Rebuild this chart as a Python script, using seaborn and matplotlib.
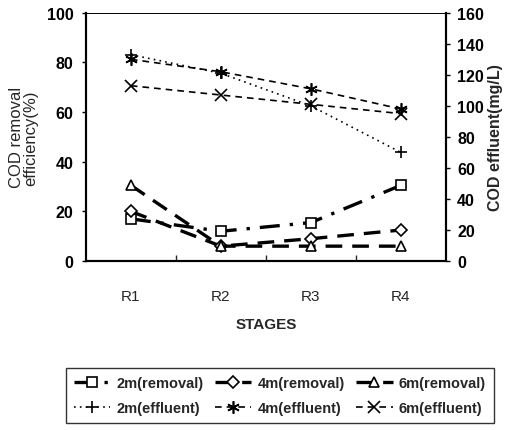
import matplotlib
matplotlib.use("Agg")
import matplotlib.pyplot as plt
import seaborn as sns
import pandas as pd

sns.set_theme(style="white")
plt.rcParams["font.family"] = ["Liberation Sans", "DejaVu Sans"]

stages = ["R1", "R2", "R3", "R4"]

removal_2m = [17, 12, 15.5, 30.5]
removal_4m = [20, 6, 9, 12.5]
removal_6m = [30.5, 6, 6, 6]

effluent_2m = [133, 121, 100, 70]
effluent_4m = [130, 122, 111, 98]
effluent_6m = [113, 107, 101, 95]

fig = plt.figure(figsize=(5.05, 4.31), dpi=100)
ax = fig.add_axes([0.170, 0.392, 0.713, 0.576])
ax2 = ax.twinx()

common = dict(color="black", markeredgecolor="black", markeredgewidth=1.2,
              sort=False, legend=False)

# removal efficiency (left axis)
removal_styles = [
    (removal_2m, "2m(removal)", "s", (0, (6, 3, 1, 3))),
    (removal_4m, "4m(removal)", "D", (0, (5, 3))),
    (removal_6m, "6m(removal)", "^", (0, (5, 3))),
]
handles = []
for vals, lab, mk, ls in removal_styles:
    df = pd.DataFrame({"stage": stages, "value": vals})
    sns.lineplot(data=df, x="stage", y="value", ax=ax, marker=mk,
                 markersize=7 if mk != "D" else 6, markerfacecolor="white",
                 linestyle=ls, linewidth=2.4, label=lab, **common)
    handles.append(ax.lines[-1])

# effluent COD (right axis)
effluent_styles = [
    (effluent_2m, "2m(effluent)", "+", (0, (1, 2.5))),
    (effluent_4m, "4m(effluent)", (6, 2, 0), (0, (4, 3))),
    (effluent_6m, "6m(effluent)", "x", (0, (4, 3))),
]
for vals, lab, mk, ls in effluent_styles:
    df = pd.DataFrame({"stage": stages, "value": vals})
    sns.lineplot(data=df, x="stage", y="value", ax=ax2, marker=mk,
                 markersize=9, linestyle=ls, linewidth=1.2, label=lab, **common)
    handles.append(ax2.lines[-1])

ax.set_xlim(-0.5, 3.5)
ax.set_ylim(0, 100)
ax2.set_ylim(0, 160)
ax.set_yticks(range(0, 101, 20))
ax2.set_yticks(range(0, 161, 20))
ax.set_xticks(range(len(stages)))
ax.set_xticklabels(stages)
ax.set_xticks([0.5, 1.5, 2.5], minor=True)

tick_font = dict(weight="bold", size=11.5)
for lbl in ax.get_yticklabels():
    lbl.set(**tick_font)
for lbl in ax2.get_yticklabels():
    lbl.set(**tick_font)
for lbl in ax.get_xticklabels():
    lbl.set(size=11)

ax.tick_params(axis="y", which="major", direction="out", length=3, width=1,
               left=True, pad=6, colors="black")
ax2.tick_params(axis="y", which="major", direction="out", length=3, width=1,
                right=True, pad=5, colors="black")
ax.tick_params(axis="x", which="major", length=0, pad=20)
ax.tick_params(axis="x", which="minor", direction="in", length=4, width=1,
               bottom=True)

for a in (ax, ax2):
    for side in ("left", "bottom", "right"):
        a.spines[side].set_color("black")
        a.spines[side].set_linewidth(1.5)
    a.spines["top"].set_color("black")
    a.spines["top"].set_linewidth(0.6)
    a.grid(False)

ax.set_xlabel("STAGES", fontsize=11, weight="bold", labelpad=10)
ax.set_ylabel("COD removal\nefficiency(%)", fontsize=12, labelpad=6,
              linespacing=0.95)
ax2.set_ylabel("COD effluent(mg/L)", fontsize=11.5, weight="bold", labelpad=3)

order = [0, 3, 1, 4, 2, 5]
leg = fig.legend([handles[i] for i in order],
                 [handles[i].get_label() for i in order],
                 ncol=3, loc="center",
                 bbox_to_anchor=(0.554, 0.079),
                 frameon=True, fancybox=False, edgecolor="black",
                 handlelength=2.5, handletextpad=0.4, columnspacing=0.8,
                 borderpad=0.55, labelspacing=0.75,
                 prop=dict(size=10.5, weight="bold"))
leg.get_frame().set_linewidth(1.0)

fig.savefig("out.png", dpi=100)
